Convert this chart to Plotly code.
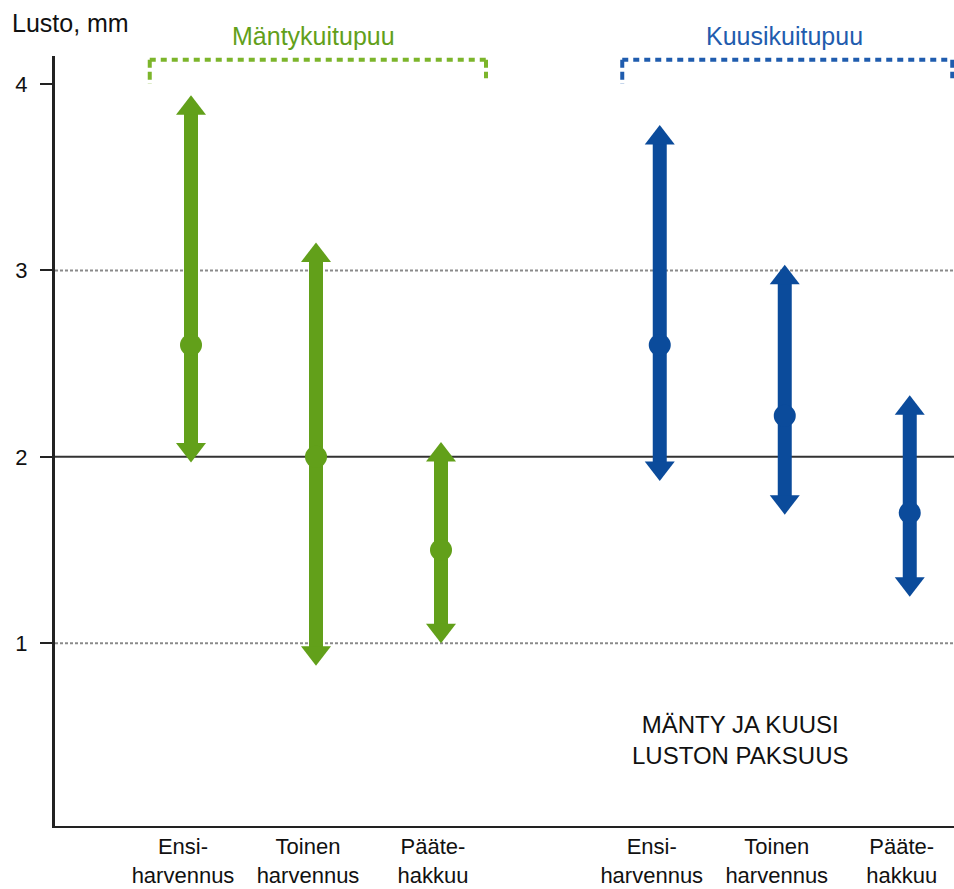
import plotly.graph_objects as go

# ---- data ----
categories = ["Ensi-<br>harvennus", "Toinen<br>harvennus", "Pääte-<br>hakkuu"]
group_names = ["Mäntykuitupuu", "Kuusikuitupuu"]
manty_min = [1.97, 0.88, 1.00]
manty_mid = [2.60, 2.00, 1.50]
manty_max = [3.94, 3.15, 2.08]
kuusi_min = [1.87, 1.69, 1.25]
kuusi_mid = [2.60, 2.22, 1.70]
kuusi_max = [3.78, 3.03, 2.33]
y_ticks = [1, 2, 3, 4]
y_title = "Lusto, mm"
note = "MÄNTY JA KUUSI<br>LUSTON PAKSUUS"

# ---- style ----
GREEN = "#62a01a"
GREEN_L = "#7cb52b"
BLUE = "#0b4b9b"
BLUE_L = "#1f5cae"
FONT = "Liberation Sans, Arial, sans-serif"

W, H = 954, 889
ML, MR, MT, MB = 55, 0, 56, 63
Y0, Y1 = 0.02, 4.15
plot_w = W - ML - MR
plot_h = H - MT - MB
px_per_unit = plot_h / (Y1 - Y0)
PX_X = 125.0                   # px per x unit

TRI = 26                       # triangle marker size
tip_off = (TRI / 2) / px_per_unit  # tip of triangle sits at the value

group_offsets = [1.0, 4.75]
x_manty = [group_offsets[0] + i for i in range(len(categories))]
x_kuusi = [group_offsets[1] + i for i in range(len(categories))]

fig = go.Figure()

def add_group(xs, mins, mids, maxs, color):
    for x, lo, mid, hi in zip(xs, mins, mids, maxs):
        fig.add_trace(go.Scatter(
            x=[x, x], y=[lo + tip_off, hi - tip_off], mode="lines",
            line=dict(color=color, width=14), hoverinfo="skip", showlegend=False))
    fig.add_trace(go.Scatter(
        x=xs, y=[h - tip_off for h in maxs], mode="markers",
        marker=dict(symbol="triangle-up", size=TRI, color=color, line=dict(width=0)),
        showlegend=False, hoverinfo="skip"))
    fig.add_trace(go.Scatter(
        x=xs, y=[l + tip_off for l in mins], mode="markers",
        marker=dict(symbol="triangle-down", size=TRI, color=color, line=dict(width=0)),
        showlegend=False, hoverinfo="skip"))
    fig.add_trace(go.Scatter(
        x=xs, y=mids, mode="markers",
        marker=dict(symbol="circle", size=22, color=color, line=dict(width=0)),
        showlegend=False, hoverinfo="text", text=[f"{m}" for m in mids]))

# gridlines (drawn below data)
for v in y_ticks[:-1]:
    solid = (v == 2)
    fig.add_shape(type="line", xref="paper", yref="y", x0=0, x1=1, y0=v, y1=v,
                  line=dict(color="#333333" if solid else "#8a8a8a",
                            width=2, dash="solid" if solid else "3px,2px"),
                  layer="below")

add_group(x_manty, manty_min, manty_mid, manty_max, GREEN)
add_group(x_kuusi, kuusi_min, kuusi_mid, kuusi_max, BLUE)

# group brackets
def bracket(x0, x1, color):
    yb = 4.13
    fig.add_shape(type="line", xref="x", yref="y", x0=x0, x1=x1, y0=yb, y1=yb,
                  line=dict(color=color, width=4, dash="6px,5px"))
    fig.add_shape(type="line", xref="x", yref="y", x0=x0, x1=x0, y0=yb, y1=4.0,
                  line=dict(color=color, width=4, dash="8px,4px"))
    fig.add_shape(type="line", xref="x", yref="y", x0=x1, x1=x1, y0=yb, y1=4.03,
                  line=dict(color=color, width=4, dash="8px,4px"))

bracket(x_manty[0] - 0.33, x_manty[-1] + 0.36, GREEN_L)
bracket(x_kuusi[0] - 0.30, x_kuusi[-1] + 0.34, BLUE_L)

title_y = 1 + (MT - 36) / plot_h
fig.add_annotation(x=(x_manty[0] + x_manty[-1]) / 2 - 0.02, y=title_y, xref="x", yref="paper",
                   text=group_names[0], showarrow=False, yanchor="middle",
                   font=dict(family=FONT, size=25, color=GREEN))
fig.add_annotation(x=(x_kuusi[0] + x_kuusi[-1]) / 2, y=title_y, xref="x", yref="paper",
                   text=group_names[1], showarrow=False, yanchor="middle",
                   font=dict(family=FONT, size=25, color=BLUE_L))

fig.add_annotation(x=-(ML - 10) / plot_w, y=1 + (MT - 23) / plot_h, xref="paper", yref="paper",
                   text=y_title, showarrow=False, xanchor="left", yanchor="middle",
                   font=dict(family=FONT, size=25, color="#111111"))

fig.add_annotation(x=x_manty[0] + (740 - 191) / PX_X, y=0.48, xref="x", yref="y",
                   text=note, showarrow=False,
                   font=dict(family=FONT, size=24, color="#111111"))

x_left = x_manty[0] - (191 - ML) / PX_X
x_right = x_manty[0] + (W - MR - 191) / PX_X
label_shift = -8 / PX_X

fig.update_layout(
    width=W, height=H,
    margin=dict(l=ML, r=MR, t=MT, b=MB, autoexpand=False),
    paper_bgcolor="white", plot_bgcolor="white",
    font=dict(family=FONT, size=22, color="#111111"),
    xaxis=dict(range=[x_left, x_right], automargin=False,
               tickvals=[x + label_shift for x in x_manty + x_kuusi],
               ticktext=categories + categories, showgrid=False, zeroline=False,
               showline=True, linecolor="#222222", linewidth=2, ticks="",
               ticklabelstandoff=0,
               tickfont=dict(family=FONT, size=22, color="#111111")),
    yaxis=dict(range=[Y0, Y1], automargin=False,
               tickvals=y_ticks, ticktext=[str(v) for v in y_ticks],
               showgrid=False, zeroline=False, showline=True, linecolor="#222222",
               linewidth=3, ticks="outside", ticklen=12, tickwidth=2, tickcolor="#222222",
               ticklabelstandoff=8,
               tickfont=dict(family=FONT, size=22, color="#111111")),
)

fig.write_html(
    "out.html",
    config={"displayModeBar": False},
    post_script="document.body.style.margin='0';document.body.style.overflow='hidden';",
)
